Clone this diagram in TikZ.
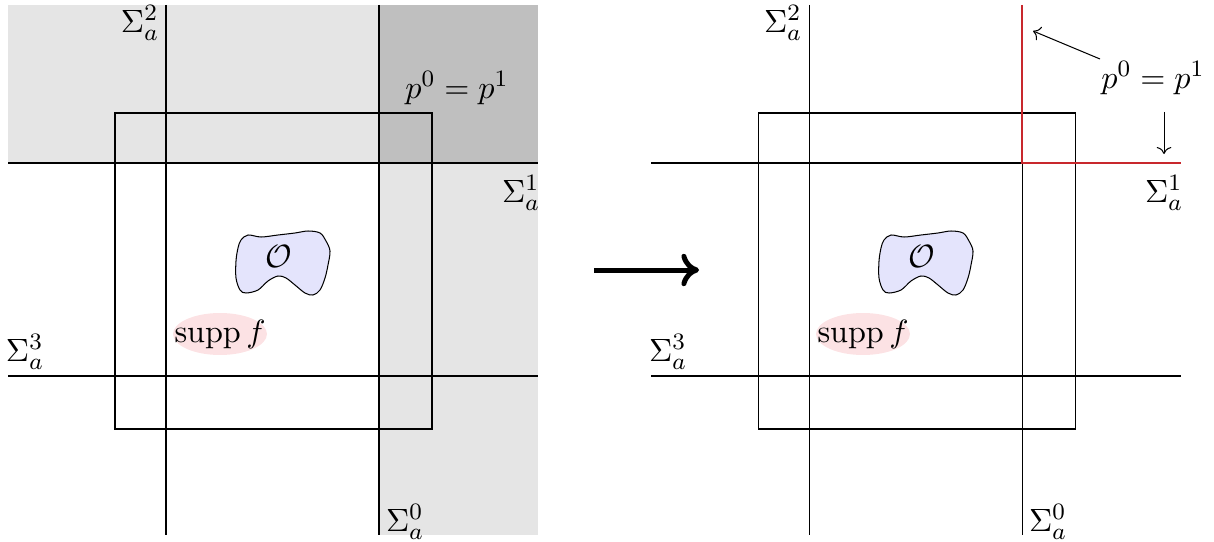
\documentclass[tikz,border=0pt]{standalone}
\usetikzlibrary{arrows.meta}
\definecolor{myred}{RGB}{200,40,45}
\definecolor{blobfill}{RGB}{228,228,252}
\definecolor{suppfill}{RGB}{252,226,228}
\begin{document}
\begin{tikzpicture}[x=0.34pt,y=-0.34pt,
  ln/.style={black,line width=0.35pt},
  lbl/.style={inner sep=0pt,font=\fontsize{11}{13}\selectfont},
  redln/.style={myred,line width=0.6pt}]
\useasboundingbox (0,0) rectangle (1214,541);
% ---------- left panel ----------
\fill[black!10] (8,5) rectangle (538,163);
\fill[black!10] (379,5) rectangle (538,535);
\fill[black!25] (379,5) rectangle (538,163);
\coordinate (L2t) at (166,5);   \coordinate (L2b) at (166,535);
\coordinate (L0t) at (379,5);   \coordinate (L0b) at (379,535);
\coordinate (L1l) at (8,163);   \coordinate (L1r) at (538,163);
\coordinate (L3l) at (8,376);   \coordinate (L3r) at (538,376);
\draw[ln] (L2t) -- (L2b);
\draw[ln] (L0t) -- (L0b);
\draw[ln] (L1l) -- (L1r);
\draw[ln] (L3l) -- (L3r);
\draw[ln] (115,113) rectangle (432,429);
\fill[suppfill] (220,334) ellipse [x radius=47, y radius=21];
\draw[ln,fill=blobfill] plot[smooth cycle,tension=0.55] coordinates
  {(241,240) (248,235) (261,237) (278,235) (295,233) (308,231) (320,233)
   (326,241) (330,251) (328,265) (325,278) (320,290) (313,295) (305,293)
   (295,285) (286,278) (278,276) (268,281) (258,290) (246,293) (240,290)
   (236,278) (236,261) (238,248)};
\node[lbl] (Ol) at (279,256) {$\mathcal{O}$};
\node[lbl] (Sl) at (220,334) {$\mathrm{supp}\,f$};
\node[lbl] (S2l) at (140,23) {$\Sigma_a^2$};
\node[lbl] (S1l) at (521,193) {$\Sigma_a^1$};
\node[lbl] (S3l) at (25,352) {$\Sigma_a^3$};
\node[lbl] (S0l) at (405,522) {$\Sigma_a^0$};
\node[lbl] (Pl) at (457,88) {$p^0=p^1$};
% ---------- arrow ----------
\coordinate (A1) at (594,270);
\coordinate (A2) at (699,270);
\draw[line width=1.7pt,-{To[length=6pt,width=11pt]}] (A1) -- (A2);
% ---------- right panel ----------
\coordinate (R2t) at (809,5);   \coordinate (R2b) at (809,535);
\coordinate (R0t) at (1022,5);  \coordinate (R0m) at (1022,163); \coordinate (R0b) at (1022,535);
\coordinate (R1l) at (651,163); \coordinate (R1r) at (1181,163);
\coordinate (R3l) at (651,376); \coordinate (R3r) at (1181,376);
\draw[ln] (R2t) -- (R2b);
\draw[ln] (R0m) -- (R0b);
\draw[ln] (R1l) -- (R0m);
\draw[ln] (R3l) -- (R3r);
\draw[ln] (758,113) rectangle (1075,429);
\draw[redln] (R0t) -- (R0m) -- (R1r);
\fill[suppfill] (863,334) ellipse [x radius=47, y radius=21];
\draw[ln,fill=blobfill] plot[smooth cycle,tension=0.55] coordinates
  {(884,240) (891,235) (904,237) (921,235) (938,233) (951,231) (963,233)
   (969,241) (973,251) (971,265) (968,278) (963,290) (956,295) (948,293)
   (938,285) (929,278) (921,276) (911,281) (901,290) (889,293) (883,290)
   (879,278) (879,261) (881,248)};
\node[lbl] (Or) at (922,256) {$\mathcal{O}$};
\node[lbl] (Sr) at (863,334) {$\mathrm{supp}\,f$};
\node[lbl] (S2r) at (783,23) {$\Sigma_a^2$};
\node[lbl] (S1r) at (1164,193) {$\Sigma_a^1$};
\node[lbl] (S3r) at (668,352) {$\Sigma_a^3$};
\node[lbl] (S0r) at (1048,522) {$\Sigma_a^0$};
\node[lbl] (Pr) at (1153,78) {$p^0=p^1$};
\coordinate (T1) at (1033,31);
\coordinate (T2) at (1164,154);
\draw[ln,->] (1100,59) -- (T1);
\draw[ln,->] (1164,112) -- (T2);
\end{tikzpicture}
\end{document}
